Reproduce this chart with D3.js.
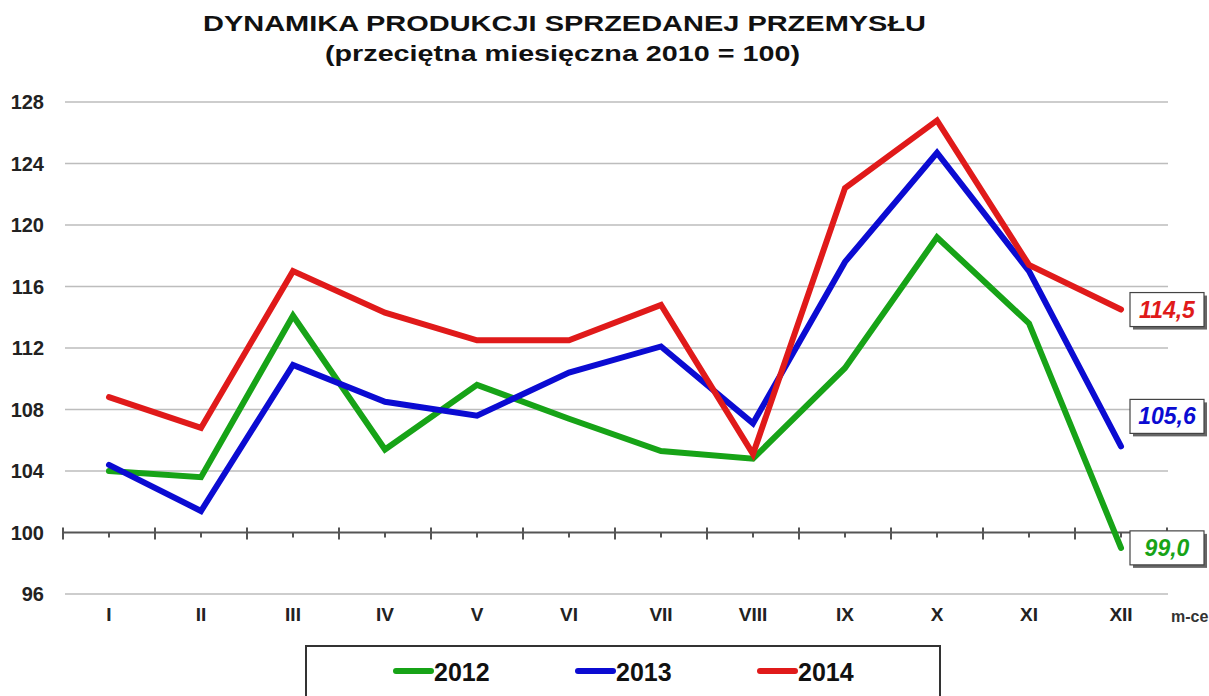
<!DOCTYPE html>
<html>
<head>
<meta charset="utf-8">
<script src="https://cdn.jsdelivr.net/npm/d3@7"></script>
<style>
  body { margin: 0; background: #fff; }
  svg { display: block; font-family: "Liberation Sans", Arial, sans-serif; }
</style>
</head>
<body>
<div class="usable"></div>
<script>
// dane z wykresu
const miesiace = ["I", "II", "III", "IV", "V", "VI", "VII", "VIII", "IX", "X", "XI", "XII"]
const lata = ["2012", "2013", "2014"]
const dane2012 = [104.0, 103.6, 114.1, 105.4, 109.6, 107.4, 105.3, 104.8, 110.7, 119.2, 113.6, 99.0]
const dane2013 = [104.4, 101.4, 110.9, 108.5, 107.6, 110.4, 112.1, 107.1, 117.6, 124.7, 117.0, 105.6]
const dane2014 = [108.8, 106.8, 117.0, 114.3, 112.5, 112.5, 114.8, 105.1, 122.4, 126.8, 117.4, 114.5]
const osY = [96, 100, 104, 108, 112, 116, 120, 124, 128]
const etykietyKoncowe = ["99,0", "105,6", "114,5"]

const kolory = ["#17a317", "#0b0bd2", "#e01a1a"]
const serie = [dane2012, dane2013, dane2014]

const width = 1209,
  height = 696;

let svg = d3.select(".usable").append("svg")
  .attr("width", width)
  .attr("height", height)

const x = d3.scalePoint().domain(miesiace).range([63, 1167]).padding(0.5)
const xBand = d3.scaleBand().domain(miesiace).range([63, 1167])
const y = d3.scaleLinear().domain([96, 128]).range([594, 102])

// tytul
svg.append("text").text("DYNAMIKA PRODUKCJI SPRZEDANEJ PRZEMYSŁU")
  .attr("x", 203).attr("y", 31)
  .attr("textLength", 723).attr("lengthAdjust", "spacingAndGlyphs")
  .attr("font-size", 22).attr("font-weight", "bold").attr("fill", "#111")
svg.append("text").text("(przeciętna miesięczna 2010 = 100)")
  .attr("x", 325).attr("y", 61)
  .attr("textLength", 475).attr("lengthAdjust", "spacingAndGlyphs")
  .attr("font-size", 22).attr("font-weight", "bold").attr("fill", "#111")

// linie siatki
svg.append("g").selectAll("line").data(osY.filter(d => d != 100)).join("line")
  .attr("x1", 65).attr("x2", 1168)
  .attr("y1", d => y(d)).attr("y2", d => y(d))
  .attr("stroke", "#bdbdbd").attr("stroke-width", 1.5)

// etykiety osi Y
svg.append("g").selectAll("text").data(osY).join("text")
  .text(d => d)
  .attr("x", 44).attr("y", d => y(d) + 7)
  .attr("text-anchor", "end")
  .attr("font-size", 20).attr("font-weight", "bold").attr("fill", "#222")

// os X na poziomie 100
const os = svg.append("g")
os.append("line")
  .attr("x1", 63).attr("x2", 1168)
  .attr("y1", y(100)).attr("y2", y(100))
  .attr("stroke", "#555").attr("stroke-width", 2)
const granice = miesiace.map(m => xBand(m)).concat([xBand.range()[1]])
os.selectAll(".duzy").data(granice).join("line").attr("class", "duzy")
  .attr("x1", d => d).attr("x2", d => d)
  .attr("y1", y(100) - 5).attr("y2", y(100) + 7)
  .attr("stroke", "#555").attr("stroke-width", 2)
os.selectAll(".maly").data(miesiace).join("line").attr("class", "maly")
  .attr("x1", d => x(d)).attr("x2", d => x(d))
  .attr("y1", y(100)).attr("y2", y(100) + 5)
  .attr("stroke", "#555").attr("stroke-width", 2)

// etykiety miesiecy
svg.append("g").selectAll("text").data(miesiace).join("text")
  .text(d => d)
  .attr("x", d => x(d)).attr("y", 621)
  .attr("text-anchor", "middle")
  .attr("font-size", 19).attr("font-weight", "bold").attr("fill", "#222")
svg.append("text").text("m-ce")
  .attr("x", 1171).attr("y", 622)
  .attr("font-size", 16).attr("font-weight", "bold").attr("fill", "#333")

// linie danych
const linia = d3.line().x((d, i) => x(miesiace[i])).y(d => y(d))
serie.forEach((s, i) => {
  svg.append("path").datum(s)
    .attr("d", linia)
    .attr("fill", "none")
    .attr("stroke", kolory[i])
    .attr("stroke-width", 6)
    .attr("stroke-linejoin", "miter")
    .attr("stroke-miterlimit", 10)
    .attr("stroke-linecap", "round")
})

// ramki z wartosciami dla grudnia
const przesuniecia = [0, -30, 0]
serie.forEach((s, i) => {
  let cy = y(s[s.length - 1]) + przesuniecia[i]
  let bx = 1130, bw = 74, bh = 34
  let g = svg.append("g")
  g.append("rect").attr("x", bx + 3).attr("y", cy - bh / 2 + 3)
    .attr("width", bw).attr("height", bh).attr("fill", "#666")
  g.append("rect").attr("x", bx).attr("y", cy - bh / 2)
    .attr("width", bw).attr("height", bh)
    .attr("fill", "#fff").attr("stroke", "#444").attr("stroke-width", 1.2)
  g.append("text").text(etykietyKoncowe[i])
    .attr("x", bx + bw / 2).attr("y", cy + 8)
    .attr("text-anchor", "middle")
    .attr("font-size", 23).attr("font-weight", "bold").attr("font-style", "italic")
    .attr("fill", kolory[i])
})

// legenda
const leg = svg.append("g")
leg.append("rect").attr("x", 306).attr("y", 646)
  .attr("width", 634).attr("height", 70)
  .attr("fill", "#fff").attr("stroke", "#333").attr("stroke-width", 2)
lata.forEach((r, i) => {
  let lx = 393 + i * 182
  leg.append("line").attr("x1", lx + 3).attr("x2", lx + 38)
    .attr("y1", 671).attr("y2", 671)
    .attr("stroke", kolory[i]).attr("stroke-width", 6).attr("stroke-linecap", "round")
  leg.append("text").text(r)
    .attr("x", lx + 41).attr("y", 681)
    .attr("font-size", 25).attr("font-weight", "bold").attr("fill", "#111")
})
</script>
</body>
</html>
